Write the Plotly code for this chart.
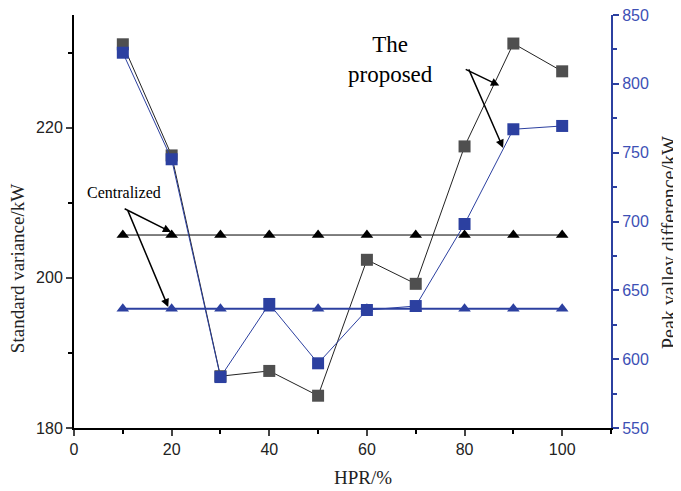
import plotly.graph_objects as go

hpr = [10, 20, 30, 40, 50, 60, 70, 80, 90, 100]
std_proposed = [231.1, 216.3, 186.9, 187.6, 184.3, 202.4, 199.2, 217.5, 231.2, 227.5]
pv_proposed = [822.6, 745.2, 587.0, 640.1, 597.0, 635.7, 638.6, 698.2, 767.0, 769.4]
std_central = [205.7] * 10
pv_central = [636.7] * 10

x_ticks = [0, 20, 40, 60, 80, 100]
left_ticks = [180, 200, 220]
right_ticks = [550, 600, 650, 700, 750, 800, 850]

BLUE = "#2C40A0"
BLUE_TXT = "#3D50B5"
GRAY = "#4F4F4F"
SERIF = "Liberation Serif"
SANS = "Liberation Sans"

fig = go.Figure()
fig.add_trace(go.Scatter(x=hpr, y=std_central, mode="lines+markers",
                         line=dict(color="black", width=1),
                         marker=dict(symbol="triangle-up", size=11, color="black"),
                         yaxis="y", showlegend=False))
fig.add_trace(go.Scatter(x=hpr, y=std_proposed, mode="lines+markers",
                         line=dict(color="#222222", width=1),
                         marker=dict(symbol="square", size=12, color=GRAY),
                         yaxis="y", showlegend=False))
fig.add_trace(go.Scatter(x=hpr, y=pv_central, mode="lines+markers",
                         line=dict(color=BLUE, width=2),
                         marker=dict(symbol="triangle-up", size=11, color=BLUE),
                         yaxis="y2", showlegend=False))
fig.add_trace(go.Scatter(x=hpr, y=pv_proposed, mode="lines+markers",
                         line=dict(color=BLUE, width=1),
                         marker=dict(symbol="square", size=12, color=BLUE),
                         yaxis="y2", showlegend=False))

arrow_common = dict(text="", showarrow=True, arrowhead=2, arrowsize=1.1,
                    arrowwidth=1.5, arrowcolor="black", axref="pixel",
                    ayref="pixel", xref="x", yref="y", standoff=0)

annotations = [
    dict(x=19.9, y=206.1, ax=-48, ay=-24, **arrow_common),
    dict(x=19.3, y=196.1, ax=-41, ay=-98, **arrow_common),
    dict(x=87.1, y=225.6, ax=-35, ay=-17, **arrow_common),
    dict(x=87.9, y=217.3, ax=-35, ay=-80, **arrow_common),
    dict(x=10.3, y=211.3, xref="x", yref="y", text="Centralized", showarrow=False,
         font=dict(family=SERIF, size=16, color="black")),
    dict(x=64.9, y=229.1, xref="x", yref="y", text="The<br>proposed", showarrow=False,
         font=dict(family=SERIF, size=23, color="black")),
    # axis titles
    dict(x=-0.104, y=0.385, xref="paper", yref="paper", text="Standard variance/kW",
         textangle=-90, showarrow=False, xanchor="center", yanchor="middle",
         font=dict(family=SERIF, size=19, color="#222222")),
    dict(x=1.110, y=0.448, xref="paper", yref="paper", text="Peak valley difference/kW",
         textangle=-90, showarrow=False, xanchor="center", yanchor="middle",
         font=dict(family=SERIF, size=20, color="#222222")),
    dict(x=0.539, y=-0.121, xref="paper", yref="paper", text="HPR/%",
         showarrow=False, xanchor="center", yanchor="middle",
         font=dict(family=SERIF, size=19, color="#222222")),
]

fig.update_layout(
    width=673, height=483,
    margin=dict(l=66, r=70, t=7, b=63, autoexpand=False),
    paper_bgcolor="white", plot_bgcolor="white",
    annotations=annotations,
    xaxis=dict(range=[0, 110], tickvals=x_ticks, ticks="outside", ticklen=6,
               tickwidth=1.5, showline=True, linecolor="black", linewidth=2,
               showgrid=False, zeroline=False, automargin=False,
               minor=dict(ticks="outside", ticklen=4, dtick=10, tickcolor="black"),
               tickfont=dict(family=SANS, size=16, color="#222222")),
    xaxis2=dict(range=[0, 110], overlaying="x", side="top", tickvals=x_ticks,
                ticks="inside", ticklen=5, tickwidth=1.5, showticklabels=False,
                showline=True, linecolor="black", linewidth=2, showgrid=False,
                zeroline=False, automargin=False),
    yaxis=dict(range=[180, 235], tickvals=left_ticks, ticks="outside", ticklen=6,
               tickwidth=1.5, showline=True, linecolor="black", linewidth=2,
               showgrid=False, zeroline=False, automargin=False,
               ticklabeloverflow="allow",
               minor=dict(ticks="outside", ticklen=4, dtick=10, tickcolor="black"),
               tickfont=dict(family=SANS, size=16, color="#222222")),
    yaxis2=dict(range=[550, 850], overlaying="y", side="right", tickvals=right_ticks,
                ticks="outside", ticklen=6, tickwidth=1.5, showline=True,
                linecolor=BLUE, linewidth=2, tickcolor=BLUE, showgrid=False,
                zeroline=False, automargin=False, ticklabeloverflow="allow",
                minor=dict(ticks="outside", ticklen=4, dtick=25, tickcolor=BLUE),
                tickfont=dict(family=SANS, size=16, color=BLUE_TXT)),
)

fig.write_html("out.html")
